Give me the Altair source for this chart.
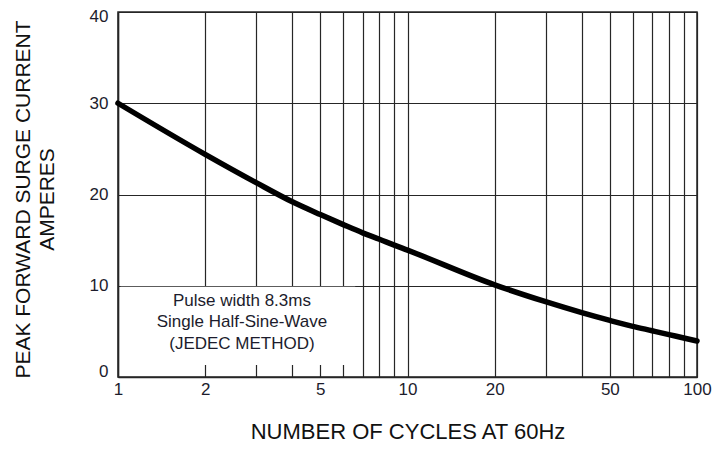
import altair as alt
import pandas as pd

# Curve values (cycles at 60 Hz -> peak surge current, A)
cycles = [1, 2, 3, 4, 5, 6, 7, 8, 9, 10, 20, 30, 40, 50, 60, 70, 80, 90, 100]
current = [30.0, 24.4, 21.3, 19.2, 17.8, 16.7, 15.8, 15.1, 14.45, 13.9,
           10.1, 8.25, 7.05, 6.2, 5.55, 5.07, 4.65, 4.27, 3.95]

# Axis ticks / grid
x_grid = [1, 2, 3, 4, 5, 6, 7, 8, 9, 10, 20, 30, 40, 50, 60, 70, 80, 90, 100]
x_labels = [1, 2, 5, 10, 20, 50, 100]
y_ticks = [0, 10, 20, 30, 40]

# Annotation
note_lines = ["Pulse width 8.3ms", "Single Half-Sine-Wave", "(JEDEC METHOD)"]
x_title = "NUMBER OF CYCLES AT 60Hz"
y_title = ["PEAK FORWARD SURGE CURRENT", "AMPERES"]

FONT = "Liberation Sans"
GRID = "#262626"
TXT = "#1c1c2c"

curve_df = pd.DataFrame({"cycles": cycles, "current": current})
box_df = pd.DataFrame({"x": [1.02], "x2": [6.6], "y": [1.32], "y2": [9.88]})
note_df = pd.DataFrame({"x": [2.68], "y": [8.33], "t": [note_lines]})

label_list = ",".join(str(v) for v in x_labels)

x_scale = alt.Scale(type="log", domain=[1, 100], nice=False)
y_scale = alt.Scale(domain=[0, 40], nice=False, zero=False)

x_axis = alt.Axis(
    values=x_grid,
    labelExpr=f"indexof([{label_list}], datum.value) >= 0 ? format(datum.value, 'd') : ''",
    grid=True, gridColor=GRID, gridWidth=1.2, gridOpacity=1,
    ticks=False, domain=True, domainColor=GRID, domainWidth=1.5,
    labelFont=FONT, labelFontSize=17, labelColor=TXT, labelPadding=4,
    labelFlush=False, labelOverlap=False,
    title=x_title, titleFont=FONT, titleFontSize=22, titleFontWeight="normal",
    titleColor="#111", titleBaseline="alphabetic", titleY=61,
)
y_axis = alt.Axis(
    values=y_ticks,
    grid=True, gridColor=GRID, gridWidth=1.2, gridOpacity=1,
    ticks=False, domain=True, domainColor=GRID, domainWidth=1.5,
    labelFont=FONT, labelFontSize=17, labelColor=TXT, labelPadding=10,
    labelOffset={"expr": "datum.value == 40 ? 4 : (datum.value == 0 ? -6 : 0)"},
    title=y_title, titleFont=FONT, titleFontSize=21, titleFontWeight="normal",
    titleColor="#111", titleAngle=270, titleBaseline="bottom", titleAlign="center",
    titleLineHeight=24, titleX=-85, titleY=187,
)

box = alt.Chart(box_df).mark_rect(color="white", opacity=1).encode(
    x=alt.X("x:Q", scale=x_scale, axis=x_axis),
    x2="x2:Q",
    y=alt.Y("y:Q", scale=y_scale, axis=y_axis),
    y2="y2:Q",
)

line = alt.Chart(curve_df).mark_line(
    color="black", strokeWidth=5.5, interpolate="monotone", strokeCap="round"
).encode(
    x=alt.X("cycles:Q", scale=x_scale, axis=x_axis),
    y=alt.Y("current:Q", scale=y_scale, axis=y_axis),
)

note = alt.Chart(note_df).mark_text(
    font=FONT, fontSize=17, color=TXT, align="center", baseline="middle",
    lineHeight=21.5,
).encode(
    x=alt.X("x:Q", scale=x_scale),
    y=alt.Y("y:Q", scale=y_scale),
    text="t",
)

chart = alt.layer(box, line, note).properties(
    width=579, height=365,
    autosize=alt.AutoSizeParams(type="none"),
    padding={"left": 110, "top": 4, "right": 16, "bottom": 72},
    background="white",
).configure_view(stroke=GRID, strokeWidth=1.5)

chart.save("out.html", embed_options={"renderer": "svg", "actions": False})
